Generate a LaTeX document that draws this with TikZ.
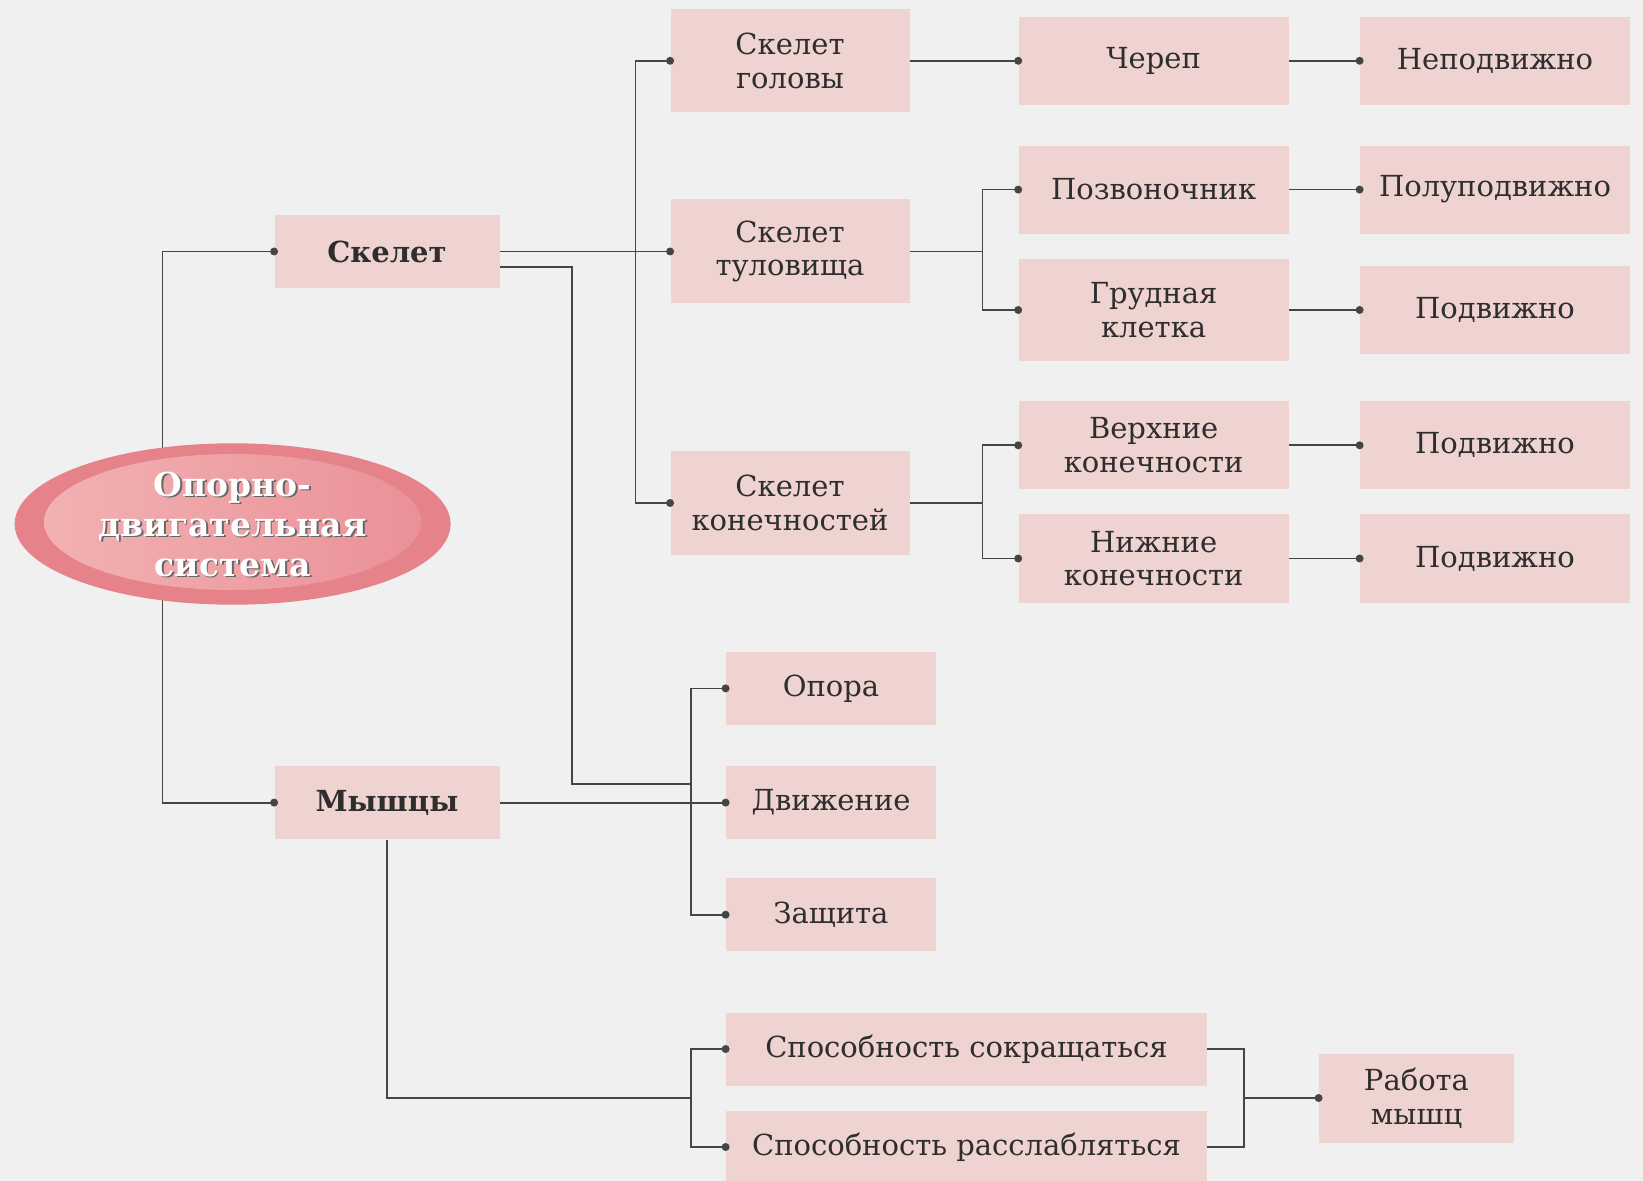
\documentclass[tikz,border=0pt]{standalone}
\usepackage{fontspec}
\setmainfont{DejaVu Serif}
\usetikzlibrary{backgrounds,shapes.geometric}
\definecolor{bgc}{HTML}{F0F0F0}
\definecolor{boxc}{HTML}{EFD3D0}
\definecolor{linec}{HTML}{454545}
\definecolor{txtc}{HTML}{2E2E2E}
\definecolor{ellout}{HTML}{E6828A}
\definecolor{ellinA}{HTML}{F2B1B3}
\definecolor{ellinB}{HTML}{EA9198}
\begin{document}
\begin{tikzpicture}[x=0.5pt,y=-0.5pt,
  box/.style={fill=boxc, inner sep=0pt, align=center, text=txtc,
    font=\fontsize{14.5}{16.8}\selectfont},
  boxS/.style={box, minimum width=112.5pt, minimum height=36.5pt},
  boxM/.style={box, minimum width=119.5pt, minimum height=52pt},
  boxL/.style={box, minimum width=135pt, minimum height=44pt},
  boxO/.style={box, minimum width=105pt, minimum height=36.5pt},
  boxW/.style={box, minimum width=240.5pt, minimum height=36.5pt},
  conn/.style={draw=linec, line width=0.9pt},
  elltext/.style={align=center, font=\fontsize{16.5}{20}\selectfont\bfseries}]
\useasboundingbox (0,0) rectangle (1643,1181);

% ellipse
\node[ellipse, fill=ellout, minimum width=218pt, minimum height=80.7pt, inner sep=0pt] (ell) at (232.6,524) {};
\node[ellipse, left color=ellinA, right color=ellinB, minimum width=188.6pt, minimum height=68pt, inner sep=0pt] (ellin) at (232.6,522) {};
\node[elltext, text=black!60, xshift=0.9pt, yshift=-0.9pt] at (ell) {Опорно-\\двигательная\\система};
\node[elltext, text=white] (elltxt) at (ell) {Опорно-\\двигательная\\система};

% level 1
\node[boxS, font=\fontsize{14.5}{16.8}\selectfont\bfseries] (skel) at (387,251.5) {Скелет};
\node[boxS, font=\fontsize{14.5}{16.8}\selectfont\bfseries] (mysh) at (387,802.6) {Мышцы};

% level 2
\node[boxM, minimum height=51.5pt] (golova) at (790,60.8) {Скелет\\головы};
\node[boxM] (tulov) at (790,251.5) {Скелет\\туловища};
\node[boxM] (konech) at (790,503) {Скелет\\конечностей};

% level 3
\node[boxL] (cherep) at (1153.6,60.8) {Череп};
\node[boxL] (pozv) at (1153.6,189.6) {Позвоночник};
\node[boxL, minimum height=51pt] (grud) at (1153.6,310) {Грудная\\клетка};
\node[boxL] (verh) at (1153.6,445.3) {Верхние\\конечности};
\node[boxL] (nizh) at (1153.6,558.5) {Нижние\\конечности};

% level 4
\node[boxL] (ra) at (1495,60.8) {Неподвижно};
\node[boxL] (rb) at (1495,189.6) {Полуподвижно};
\node[boxL] (rc) at (1495,310) {Подвижно};
\node[boxL] (rd) at (1495,445.3) {Подвижно};
\node[boxL] (re) at (1495,558.5) {Подвижно};

% functions
\node[boxO] (opora) at (831,688.4) {Опора};
\node[boxO] (dvizh) at (831,802.6) {Движение};
\node[boxO] (zashch) at (831,914.7) {Защита};

% muscle properties
\node[boxW] (sokr) at (966.5,1049) {Способность сокращаться};
\node[boxW] (rassl) at (966.5,1147) {Способность расслабляться};
\node[box, minimum width=97.5pt, minimum height=44.5pt] (rabota) at (1416.5,1098) {Работа\\мышц};

\coordinate (eL) at (162.4,524);
\coordinate (bs) at (691.5,783.7);
\coordinate (bm) at (691.5,1098);

\begin{scope}[on background layer]
  \fill[bgc] (0,0) rectangle (1643,1181);
  \draw[conn] (skel.west) -| (eL) |- (mysh.west);
  \draw[conn] (skel.east) -- (tulov.west);
  \draw[conn] (golova.west) -- ++(-34.6,0) |- (konech.west);
  \draw[conn] ([yshift=-7.75pt]skel.east) -- ++(72.2,0) |- (bs);
  \draw[conn] (golova.east) -- (cherep.west);
  \draw[conn] (cherep.east) -- (ra.west);
  \draw[conn] (tulov.east) -- ++(73.3,0);
  \draw[conn] (pozv.west) -- ++(-35.7,0) |- (grud.west);
  \draw[conn] (pozv.east) -- (rb.west);
  \draw[conn] (grud.east) -- (rc.west);
  \draw[conn] (konech.east) -- ++(73.3,0);
  \draw[conn] (verh.west) -- ++(-35.7,0) |- (nizh.west);
  \draw[conn] (verh.east) -- (rd.west);
  \draw[conn] (nizh.east) -- (re.west);
  \draw[conn] (opora.west) -- ++(-34.5,0) |- (zashch.west);
  \draw[conn] (mysh.east) -- (dvizh.west);
  \draw[conn] (mysh.south) |- (bm);
  \draw[conn] (sokr.west) -- ++(-34.5,0) |- (rassl.west);
  \draw[conn] (sokr.east) -- ++(36.7,0) |- (rassl.east);
  \draw[conn] (rabota.west) -- ++(-75.3,0);
\end{scope}

\foreach \n in {skel,mysh,golova,tulov,konech,cherep,pozv,grud,verh,nizh,ra,rb,rc,rd,re,opora,dvizh,zashch,sokr,rassl,rabota}
  \fill[linec] (\n.west) circle[radius=2pt];
\end{tikzpicture}
\end{document}
